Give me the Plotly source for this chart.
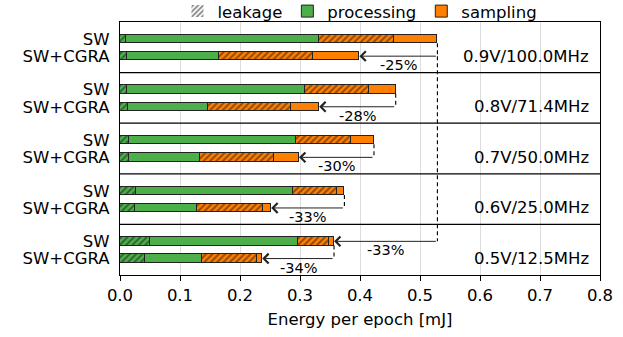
import plotly.graph_objects as go

# ---- data (mJ) ----
configs = ["0.9V/100.0MHz", "0.8V/71.4MHz", "0.7V/50.0MHz", "0.6V/25.0MHz", "0.5V/12.5MHz"]
row_labels = ["SW", "SW+CGRA"]
# per config: [SW, SW+CGRA]
proc_leak = [[0.0095, 0.011], [0.011, 0.0128], [0.015, 0.015], [0.026, 0.0245], [0.0494, 0.041]]
proc_dyn_end = [[0.332, 0.1645], [0.309, 0.146], [0.293, 0.134], [0.288, 0.129], [0.296, 0.136]]
samp_leak_end = [[0.4567, 0.321], [0.415, 0.285], [0.3845, 0.2567], [0.361, 0.238], [0.349, 0.228]]
total = [[0.529, 0.399], [0.4595, 0.332], [0.4233, 0.2983], [0.374, 0.252], [0.3567, 0.237]]
x_ticks = [0.0, 0.1, 0.2, 0.3, 0.4, 0.5, 0.6, 0.7, 0.8]

GREEN = "#4daf4a"
ORANGE = "#ff7f00"
FONT = "DejaVu Sans"

# y positions (panel units, reversed axis)
SW_OFF, CG_OFF, BAR_W = 0.335, 0.675, 0.165
ys, texts = [], []
pl, pd, sl, sd = [], [], [], []
for i in range(len(configs)):
    for j, off in enumerate([SW_OFF, CG_OFF]):
        ys.append(i + off)
        texts.append(row_labels[j])
        pl.append(proc_leak[i][j])
        pd.append(proc_dyn_end[i][j] - proc_leak[i][j])
        sl.append(samp_leak_end[i][j] - proc_dyn_end[i][j])
        sd.append(total[i][j] - samp_leak_end[i][j])

fig = go.Figure()
line = dict(color="#222", width=1)
pat = dict(shape="/", fgcolor="#111", size=4.5, solidity=0.4, fillmode="overlay")

fig.add_trace(go.Bar(y=ys, x=pl, orientation="h", width=BAR_W, showlegend=False,
                     marker=dict(color=GREEN, line=line, pattern=dict(pat, bgcolor=GREEN))))
fig.add_trace(go.Bar(y=ys, x=pd, orientation="h", width=BAR_W, showlegend=False,
                     marker=dict(color=GREEN, line=line)))
fig.add_trace(go.Bar(y=ys, x=sl, orientation="h", width=BAR_W, showlegend=False,
                     marker=dict(color=ORANGE, line=line, pattern=dict(pat, bgcolor=ORANGE))))
fig.add_trace(go.Bar(y=ys, x=sd, orientation="h", width=BAR_W, showlegend=False,
                     marker=dict(color=ORANGE, line=line)))

# legend entries
fig.add_trace(go.Bar(y=[None], x=[None], orientation="h", name="leakage",
                     marker=dict(color="white", line=dict(width=0),
                                 pattern=dict(pat, bgcolor="white", fgcolor="#111", solidity=0.5))))
fig.add_trace(go.Bar(y=[None], x=[None], orientation="h", name="processing",
                     marker=dict(color=GREEN, line=line)))
fig.add_trace(go.Bar(y=[None], x=[None], orientation="h", name="sampling",
                     marker=dict(color=ORANGE, line=line)))

shapes = []
annotations = []
# separators
for k in range(1, len(configs)):
    shapes.append(dict(type="line", xref="paper", yref="y", x0=0, x1=1, y0=k, y1=k,
                       line=dict(color="black", width=1.3), layer="above"))
# config labels
for i, c in enumerate(configs):
    annotations.append(dict(x=0.785, y=i + CG_OFF, xref="x", yref="y", text=c, showarrow=False,
                            xanchor="right", yanchor="middle", font=dict(size=16.5, color="black")))

half = BAR_W / 2
dash = dict(color="black", width=1.1, dash="4px,3px")


def arrow(x_from, x_to, y, label):
    annotations.append(dict(x=x_to, y=y, ax=x_from, ay=y, xref="x", yref="y", axref="x", ayref="y",
                            showarrow=True, arrowhead=4, arrowsize=1.9, arrowwidth=1, arrowcolor="#222",
                            text=""))
    annotations.append(dict(x=(x_from + x_to) / 2, y=y, xref="x", yref="y", text=label, showarrow=False,
                            yanchor="top", yshift=1, font=dict(size=14.5, color="black")))


# per-config SW -> SW+CGRA arrows
for i in range(len(configs)):
    sw, cg = total[i][0], total[i][1]
    shapes.append(dict(type="line", xref="x", yref="y", x0=sw, x1=sw, y0=i + SW_OFF + half,
                       y1=i + CG_OFF, line=dash))
    pct = round((cg / sw - 1) * 100)
    arrow(sw, cg, i + CG_OFF, f"{pct}%")

# reference: 0.9V SW vs 0.5V SW
ref = total[0][0]
last = len(configs) - 1
shapes.append(dict(type="line", xref="x", yref="y", x0=ref, x1=ref, y0=CG_OFF,
                   y1=last + SW_OFF, line=dash))
pct = round((total[last][0] / ref - 1) * 100)
arrow(ref, total[last][0], last + SW_OFF, f"{pct}%")

fig.update_layout(
    width=623, height=337,
    margin=dict(l=120, r=23, t=22, b=62, autoexpand=False),
    barmode="stack", bargap=0,
    plot_bgcolor="white", paper_bgcolor="white",
    font=dict(family=FONT, size=16.5, color="black"),
    shapes=shapes, annotations=annotations,
    legend=dict(orientation="h", x=0.5, xanchor="center", y=1.042, yanchor="middle",
                font=dict(size=16.5), itemwidth=30, traceorder="normal",
                bgcolor="rgba(0,0,0,0)"),
)
fig.update_xaxes(range=[0, 0.8], tickvals=x_ticks, ticktext=[f"{v:.1f}" for v in x_ticks],
                 showgrid=True, gridcolor="#dddddd", gridwidth=1,
                 showline=True, linecolor="black", linewidth=1.3, mirror=True,
                 ticks="outside", ticklen=5, tickcolor="black", zeroline=False,
                 title=dict(text="Energy per epoch [mJ]", standoff=9, font=dict(size=16.5)))
fig.update_yaxes(range=[len(configs), 0], tickvals=ys, ticktext=texts, showgrid=False,
                 showline=True, linecolor="black", linewidth=1.3, mirror=True,
                 ticks="", zeroline=False, ticklabelstandoff=6)

fig.write_html("out.html", config={"displayModeBar": False},
               post_script="document.body.style.margin='0';document.body.style.overflow='hidden';")
